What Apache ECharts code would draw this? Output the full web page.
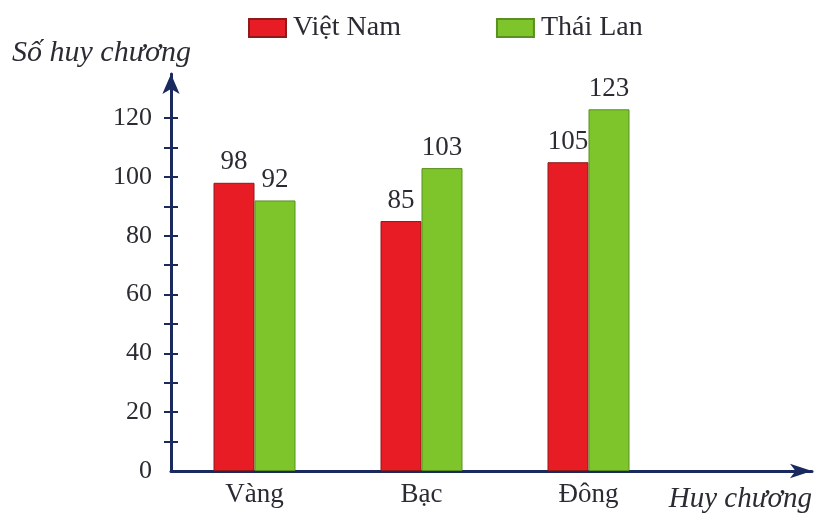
<!DOCTYPE html>
<html>
<head>
<meta charset="utf-8">
<script src="https://cdn.jsdelivr.net/npm/echarts@6/dist/echarts.min.js"></script>
<style>
  html, body { margin: 0; padding: 0; background: #fff; }
  #chart { width: 819px; height: 513px; }
</style>
</head>
<body>
<div id="chart"></div>
<script>
// dữ liệu
var categories = ["Vàng", "Bạc", "Đông"];
var vietNam = [98, 85, 105];
var thaiLan = [92, 103, 123];
var yLabels = [0, 20, 40, 60, 80, 100, 120];
var yTicks = [10, 20, 30, 40, 50, 60, 70, 80, 90, 100, 110, 120];

var font = "Liberation Serif";
var axisColor = "#1b2a5e";
var textColor = "#2b2b33";

var chart = echarts.init(document.getElementById("chart"));

var option = {
  backgroundColor: "#fff",
  animation: false,
  textStyle: { fontFamily: font },
  title: [
    {
      text: "Số huy chương",
      left: 7,
      top: 33,
      textStyle: { fontFamily: font, fontStyle: "italic", fontWeight: "normal", fontSize: 30, color: textColor },
    },
    {
      text: "Huy chương",
      right: 2,
      top: 480,
      textStyle: { fontFamily: font, fontStyle: "italic", fontWeight: "normal", fontSize: 29, color: textColor },
    },
  ],
  legend: {
    left: 243,
    top: 9,
    itemWidth: 37,
    itemHeight: 18,
    itemGap: 95,
    icon: "rect",
    textStyle: { fontFamily: font, fontSize: 28, color: textColor, padding: [0, 0, 0, 2] },
    data: ["Việt Nam", "Thái Lan"],
  },
  grid: [
    { left: 171, width: 501, top: 74, bottom: 42 },
    { left: 171, right: 7, top: 74, bottom: 42 },
  ],
  xAxis: [
    {
      type: "category",
      gridIndex: 0,
      data: categories,
      axisLine: { show: false },
      axisTick: { show: false },
      axisLabel: { fontFamily: font, fontSize: 27, color: textColor, margin: 10 },
    },
    {
      type: "value",
      gridIndex: 1,
      min: 0,
      max: 1,
      axisLine: {
        show: true,
        symbol: ["none", "arrow"],
        symbolSize: [11, 22],
        lineStyle: { color: axisColor, width: 3 },
      },
      axisTick: { show: false },
      axisLabel: { show: false },
      splitLine: { show: false },
    },
  ],
  yAxis: [
    {
      type: "value",
      gridIndex: 0,
      min: 0,
      max: 135,
      interval: 5,
      axisLine: {
        show: true,
        symbol: ["none", "arrow"],
        symbolSize: [13, 20],
        lineStyle: { color: axisColor, width: 3 },
      },
      axisTick: {
        show: true,
        length: 7,
        customValues: yTicks,
        lineStyle: { color: axisColor, width: 2 },
      },
      axisLabel: {
        customValues: yLabels,
        fontFamily: font,
        fontSize: 26,
        color: textColor,
        margin: 19,
      },
      splitLine: { show: false },
    },
    {
      type: "value",
      gridIndex: 0,
      position: "left",
      min: 0,
      max: 135,
      interval: 5,
      axisLine: { show: false },
      axisTick: {
        show: true,
        inside: true,
        length: 7,
        customValues: yTicks,
        lineStyle: { color: axisColor, width: 2 },
      },
      axisLabel: { show: false },
      splitLine: { show: false },
    },
    {
      type: "value",
      gridIndex: 1,
      show: false,
      min: 0,
      max: 1,
    },
  ],
  series: [
    {
      name: "Việt Nam",
      type: "bar",
      xAxisIndex: 0,
      yAxisIndex: 0,
      data: vietNam,
      barWidth: 41,
      barGap: "0%",
      itemStyle: { color: "#e81c24", borderColor: "#8e1a1a", borderWidth: 1 },
      label: { show: true, position: "top", distance: 7, fontFamily: font, fontSize: 27, color: textColor },
    },
    {
      name: "Thái Lan",
      type: "bar",
      xAxisIndex: 0,
      yAxisIndex: 0,
      data: thaiLan,
      barWidth: 41,
      barGap: "0%",
      itemStyle: { color: "#7dc52a", borderColor: "#5a8f22", borderWidth: 1 },
      label: { show: true, position: "top", distance: 7, fontFamily: font, fontSize: 27, color: textColor },
    },
  ],
};

chart.setOption(option);
</script>
</body>
</html>
